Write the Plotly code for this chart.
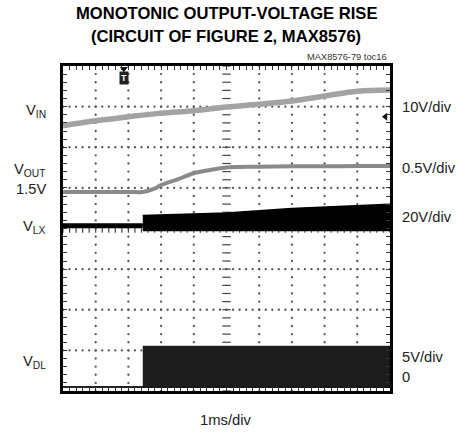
import plotly.graph_objects as go
import numpy as np

# ---------------- data (screen divisions; time in ms, 1 ms/div) ----------------
vin_t = [0, 1, 2, 3, 4, 5, 6, 7, 8, 9, 10]
vin_div = [6.53, 6.65, 6.75, 6.84, 6.90, 6.99, 7.06, 7.14, 7.26, 7.38, 7.41]

vout_t = [0, 1, 2, 2.44, 2.8, 3.0, 3.5, 4.0, 4.5, 5.0, 6.0, 7.0, 8.0, 9.0, 10.0]
vout_div = [4.90, 4.90, 4.90, 4.90, 4.98, 5.07, 5.21, 5.36, 5.44, 5.50, 5.52, 5.53, 5.53, 5.54, 5.54]

vlx_idle_t = [0, 2.44]
vlx_idle_div = [4.07, 4.07]
vlx_on_t = [2.44, 5, 7, 9, 10]
vlx_on_top = [4.32, 4.38, 4.49, 4.57, 4.60]
vlx_on_bottom = [3.95, 3.95, 3.95, 3.95, 3.95]

vdl_base_t = [0, 10]
vdl_base_div = [0.10, 0.10]
vdl_on_t = [2.44, 10]
vdl_on_top = [1.10, 1.10]
vdl_on_bottom = [0.09, 0.09]

trigger_t = 1.86
vin_marker_div = 6.75

left_labels = ["V<sub>IN</sub>", "V<sub>OUT</sub>", "1.5V", "V<sub>LX</sub>", "V<sub>DL</sub>"]
right_labels = ["10V/div", "0.5V/div", "20V/div", "5V/div", "0"]

# ---------------- layout geometry ----------------
W, H = 456, 433
L, R, T, B = 63, 390, 66, 391


def pxx(x):
    return (x - L) / (R - L)


def pxy(y):
    return (B - y) / (B - T)


FONT = "Liberation Sans, Arial, sans-serif"

fig = go.Figure()

# grid dots
gx, gy = [], []
for xv in range(1, 10):
    if xv == 5:
        continue
    for yv in np.arange(0, 8.001, 0.2):
        gx.append(xv)
        gy.append(yv)
for yv in range(1, 8):
    if yv == 4:
        continue
    for xv in np.arange(0, 10.001, 0.2):
        gx.append(xv)
        gy.append(yv)
fig.add_trace(go.Scatter(x=gx, y=gy, mode="markers",
                         marker=dict(size=2.3, color="#555555"),
                         hoverinfo="skip", showlegend=False))
# center cross ticks
cyv = list(np.arange(0, 8.001, 0.2))
fig.add_trace(go.Scatter(x=[5] * len(cyv), y=cyv, mode="markers",
                         marker=dict(symbol="line-ew", size=6,
                                     line=dict(width=1.2, color="#444444")),
                         hoverinfo="skip", showlegend=False))
cxv = list(np.arange(0, 10.001, 0.2))
fig.add_trace(go.Scatter(x=cxv, y=[4] * len(cxv), mode="markers",
                         marker=dict(symbol="line-ns", size=6,
                                     line=dict(width=1.2, color="#444444")),
                         hoverinfo="skip", showlegend=False))

# VDL
fig.add_trace(go.Scatter(x=vdl_base_t, y=vdl_base_div, mode="lines",
                         line=dict(color="#222222", width=2), showlegend=False))
fig.add_trace(go.Scatter(x=vdl_on_t + vdl_on_t[::-1],
                         y=vdl_on_top + vdl_on_bottom[::-1],
                         mode="lines", fill="toself", fillcolor="#1c1c1c",
                         line=dict(color="#111111", width=1), showlegend=False))
# VLX
fig.add_trace(go.Scatter(x=vlx_idle_t, y=vlx_idle_div, mode="lines",
                         line=dict(color="#000000", width=5), showlegend=False))
fig.add_trace(go.Scatter(x=vlx_on_t + vlx_on_t[::-1],
                         y=vlx_on_top + vlx_on_bottom[::-1],
                         mode="lines", fill="toself", fillcolor="#000000",
                         line=dict(color="#000000", width=1.5), showlegend=False))
# VOUT
fig.add_trace(go.Scatter(x=vout_t, y=vout_div, mode="lines",
                         line=dict(color="#8a8a8a", width=4, shape="spline"),
                         showlegend=False))
# VIN
fig.add_trace(go.Scatter(x=vin_t, y=vin_div, mode="lines",
                         line=dict(color="#a3a3a3", width=5.5, shape="spline"),
                         showlegend=False))

# markers: trigger and channel pointer
fig.add_trace(go.Scatter(x=[trigger_t], y=[7.93], mode="markers",
                         marker=dict(symbol="triangle-down", size=7, color="#111111"),
                         showlegend=False, hoverinfo="skip"))
fig.add_trace(go.Scatter(x=[9.86], y=[vin_marker_div], mode="markers",
                         marker=dict(symbol="triangle-left", size=7, color="#111111"),
                         showlegend=False, hoverinfo="skip"))

ann = []
ann.append(dict(x=trigger_t, y=7.7, xref="x", yref="y", text="<b>T</b>",
                showarrow=False, font=dict(size=9, color="white", family="Arial"),
                bgcolor="#222222", borderpad=0, width=8, height=12))

# title
ann.append(dict(x=pxx(226), y=pxy(13.5), xref="paper", yref="paper",
                text="<b>MONOTONIC OUTPUT-VOLTAGE RISE</b>", showarrow=False,
                font=dict(size=16.6, family=FONT, color="black"), xanchor="center", yanchor="middle"))
ann.append(dict(x=pxx(226), y=pxy(36.5), xref="paper", yref="paper",
                text="<b>(CIRCUIT OF FIGURE 2, MAX8576)</b>", showarrow=False,
                font=dict(size=16.6, family=FONT, color="black"), xanchor="center", yanchor="middle"))
ann.append(dict(x=pxx(389), y=pxy(56.5), xref="paper", yref="paper",
                text="MAX8576-79 toc16", showarrow=False,
                font=dict(size=9.3, family=FONT, color="#333333"), xanchor="right", yanchor="middle"))

left_y = [111, 170, 189, 227, 362]
for txt, yy in zip(left_labels, left_y):
    ann.append(dict(x=pxx(48), y=pxy(yy), xref="paper", yref="paper", text=txt,
                    showarrow=False, font=dict(size=14.7, family=FONT, color="#222222"),
                    xanchor="right", yanchor="middle"))
right_y = [107, 168, 217, 357, 377]
for txt, yy in zip(right_labels, right_y):
    ann.append(dict(x=pxx(400), y=pxy(yy), xref="paper", yref="paper", text=txt,
                    showarrow=False, font=dict(size=14.7, family=FONT, color="#222222"),
                    xanchor="left", yanchor="middle"))
ann.append(dict(x=pxx(226), y=pxy(420), xref="paper", yref="paper", text="1ms/div",
                showarrow=False, font=dict(size=14.8, family=FONT, color="#222222"),
                xanchor="center", yanchor="middle"))

axis_common = dict(showgrid=False, zeroline=False, showticklabels=False,
                   showline=True, linewidth=3, linecolor="black", mirror="ticks",
                   ticks="inside", ticklen=4, tickwidth=1, tickcolor="#333333", fixedrange=True)

fig.update_layout(
    width=W, height=H,
    margin=dict(l=L, r=W - R, t=T, b=H - B, pad=0),
    paper_bgcolor="white", plot_bgcolor="white",
    xaxis=dict(range=[0, 10], tick0=0, dtick=0.2, **axis_common),
    yaxis=dict(range=[0, 8], tick0=0, dtick=0.2, **axis_common),
    annotations=ann,
    showlegend=False,
)

fig.write_html("out.html", config={"displayModeBar": False},
               post_script="document.body.style.margin='0px';")
